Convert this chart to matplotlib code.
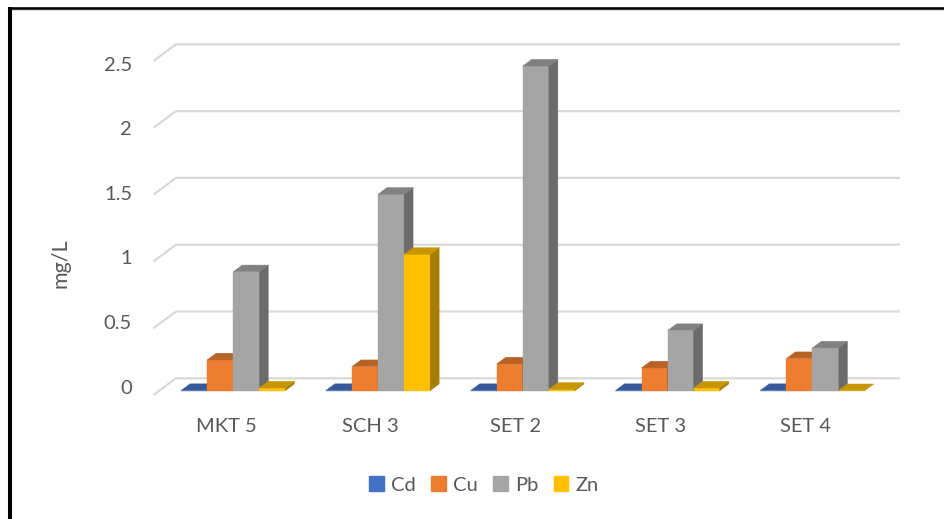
import matplotlib
matplotlib.use("Agg")
import matplotlib.pyplot as plt
from matplotlib.patches import Patch
from matplotlib.collections import PolyCollection
from matplotlib.lines import Line2D
import numpy as np

# ---- data -------------------------------------------------------------
categories = ["MKT 5", "SCH 3", "SET 2", "SET 3", "SET 4"]
series_names = ["Cd", "Cu", "Pb", "Zn"]
cd = [0.001, 0.001, 0.001, 0.001, 0.001]
cu = [0.23, 0.18, 0.20, 0.17, 0.24]
pb = [0.89, 1.47, 2.43, 0.45, 0.32]
zn = [0.02, 1.02, 0.01, 0.02, 0.0]
y_ticks = [0, 0.5, 1, 1.5, 2, 2.5]
y_tick_labels = ["0", "0.5", "1", "1.5", "2", "2.5"]
y_label = "mg/L"

colors = ["#4472C4", "#ED7D31", "#A5A5A5", "#FFC000"]
values = [cd, cu, pb, zn]

# ---- layout (pixels) --------------------------------------------------
W, H = 944, 519
FRONT_LEFT_PX = 153.5   # left edge of the floor's front edge
CAT_PX = 144.8          # width of one category slot
ZERO_PX = 395.0         # value 0 on the front edge (from top)
UNIT_PX = 133.6         # pixels per 1 mg/L
DEPTH_DX_PX = 22.5      # oblique depth offset (full depth)
DEPTH_DY_PX = 16.7

plt.rcParams["font.family"] = ["Lato", "DejaVu Sans"]
TEXT = "#595959"
GRID = "#D9D9D9"
FS = 14.5

fig = plt.figure(figsize=(W / 100, H / 100), dpi=100)
fig.patch.set_facecolor("white")
ax = fig.add_axes([0, 0, 1, 1])
ax.axis("off")
ax.set_xlim(-0.5 - FRONT_LEFT_PX / CAT_PX, -0.5 + (W - FRONT_LEFT_PX) / CAT_PX)
ax.set_ylim(-(H - ZERO_PX) / UNIT_PX, ZERO_PX / UNIT_PX)

DX = DEPTH_DX_PX / CAT_PX
DY = DEPTH_DY_PX / UNIT_PX
n_cat = len(categories)


def proj(x, v, z):
    """Oblique projection of (category x, value v, depth z) to data coords."""
    return (x + z * DX, v + z * DY)


# ---- walls: gridlines on side wall and back wall ----------------------
x0, x1 = -0.5, n_cat - 0.5
for t in y_ticks:
    pts = [proj(x0, t, 0), proj(x0, t, 1), proj(x1, t, 1)]
    xs, ys = zip(*pts)
    ax.plot(xs, ys, color=GRID, lw=1.6, solid_capstyle="butt", zorder=1)

# ---- 3D columns --------------------------------------------------------
bar_w = 0.18
z_front, z_back = 0.26, 0.66
ddx = (z_back - z_front) * DX
ddy = (z_back - z_front) * DY
base = z_front * DY
idx = np.arange(n_cat)


def shade(hex_color, f):
    r, g, b = matplotlib.colors.to_rgb(hex_color)
    return (r * f, g * f, b * f)


for j, (vals, col) in enumerate(zip(values, colors)):
    vals = np.asarray(vals, dtype=float)
    lefts = idx + z_front * DX + 0.01 - 2 * bar_w + j * bar_w
    zo = 10 + 3 * j
    ax.bar(lefts, vals, width=bar_w, bottom=base, align="edge",
           color=col, edgecolor=col, linewidth=0.3, zorder=zo)
    sides, tops = [], []
    for xl, v in zip(lefts, vals):
        xr = xl + bar_w
        sides.append([(xr, base), (xr, base + v), (xr + ddx, base + v + ddy),
                      (xr + ddx, base + ddy)])
        tops.append([(xl, base + v), (xr, base + v), (xr + ddx, base + v + ddy),
                     (xl + ddx, base + v + ddy)])
    ax.add_collection(PolyCollection(sides, facecolors=shade(col, 0.65),
                                     edgecolors=shade(col, 0.65), linewidths=0.3,
                                     zorder=zo + 1))
    ax.add_collection(PolyCollection(tops, facecolors=shade(col, 0.78),
                                     edgecolors=shade(col, 0.78), linewidths=0.3,
                                     zorder=zo + 2))

# ---- axis texts --------------------------------------------------------
tick_x = -0.5 - (FRONT_LEFT_PX - 132.0) / CAT_PX
label_scale = 129.2 / UNIT_PX
label_shift = (ZERO_PX - 388.0) / UNIT_PX
for t, s in zip(y_ticks, y_tick_labels):
    ax.text(tick_x, t * label_scale + label_shift, s, ha="right", va="center",
            fontsize=FS, color=TEXT, zorder=30)

cat_y = -(426.0 - ZERO_PX) / UNIT_PX
for i, c in enumerate(categories):
    ax.text(i, cat_y, c, ha="center", va="center", fontsize=FS, color=TEXT,
            zorder=30)

fig.text(61 / W, 1 - 263 / H, y_label, rotation=90, ha="center", va="center",
         fontsize=15.5, color=TEXT)

# ---- legend ------------------------------------------------------------
handles = [Patch(facecolor=c, edgecolor=c) for c in colors]
fig.legend(handles, series_names, loc="center", ncol=4,
           bbox_to_anchor=(484 / W, 1 - 485 / H), frameon=False,
           fontsize=FS, labelcolor=TEXT, handlelength=0.7, handleheight=0.7,
           handletextpad=0.35, columnspacing=0.8)

# ---- outer frame -------------------------------------------------------
fig.add_artist(Line2D([9.5 / W, 9.5 / W], [0, 1 - 6.5 / H], color="black",
                      lw=2.9, transform=fig.transFigure, solid_capstyle="butt"))
fig.add_artist(Line2D([8 / W, 1], [1 - 8 / H, 1 - 8 / H], color="black",
                      lw=1.9, transform=fig.transFigure, solid_capstyle="butt"))
fig.add_artist(Line2D([12 / W, 1], [1 - 10.3 / H, 1 - 10.3 / H], color=GRID,
                      lw=0.8, transform=fig.transFigure))

fig.savefig("out.png", dpi=100, facecolor="white")
